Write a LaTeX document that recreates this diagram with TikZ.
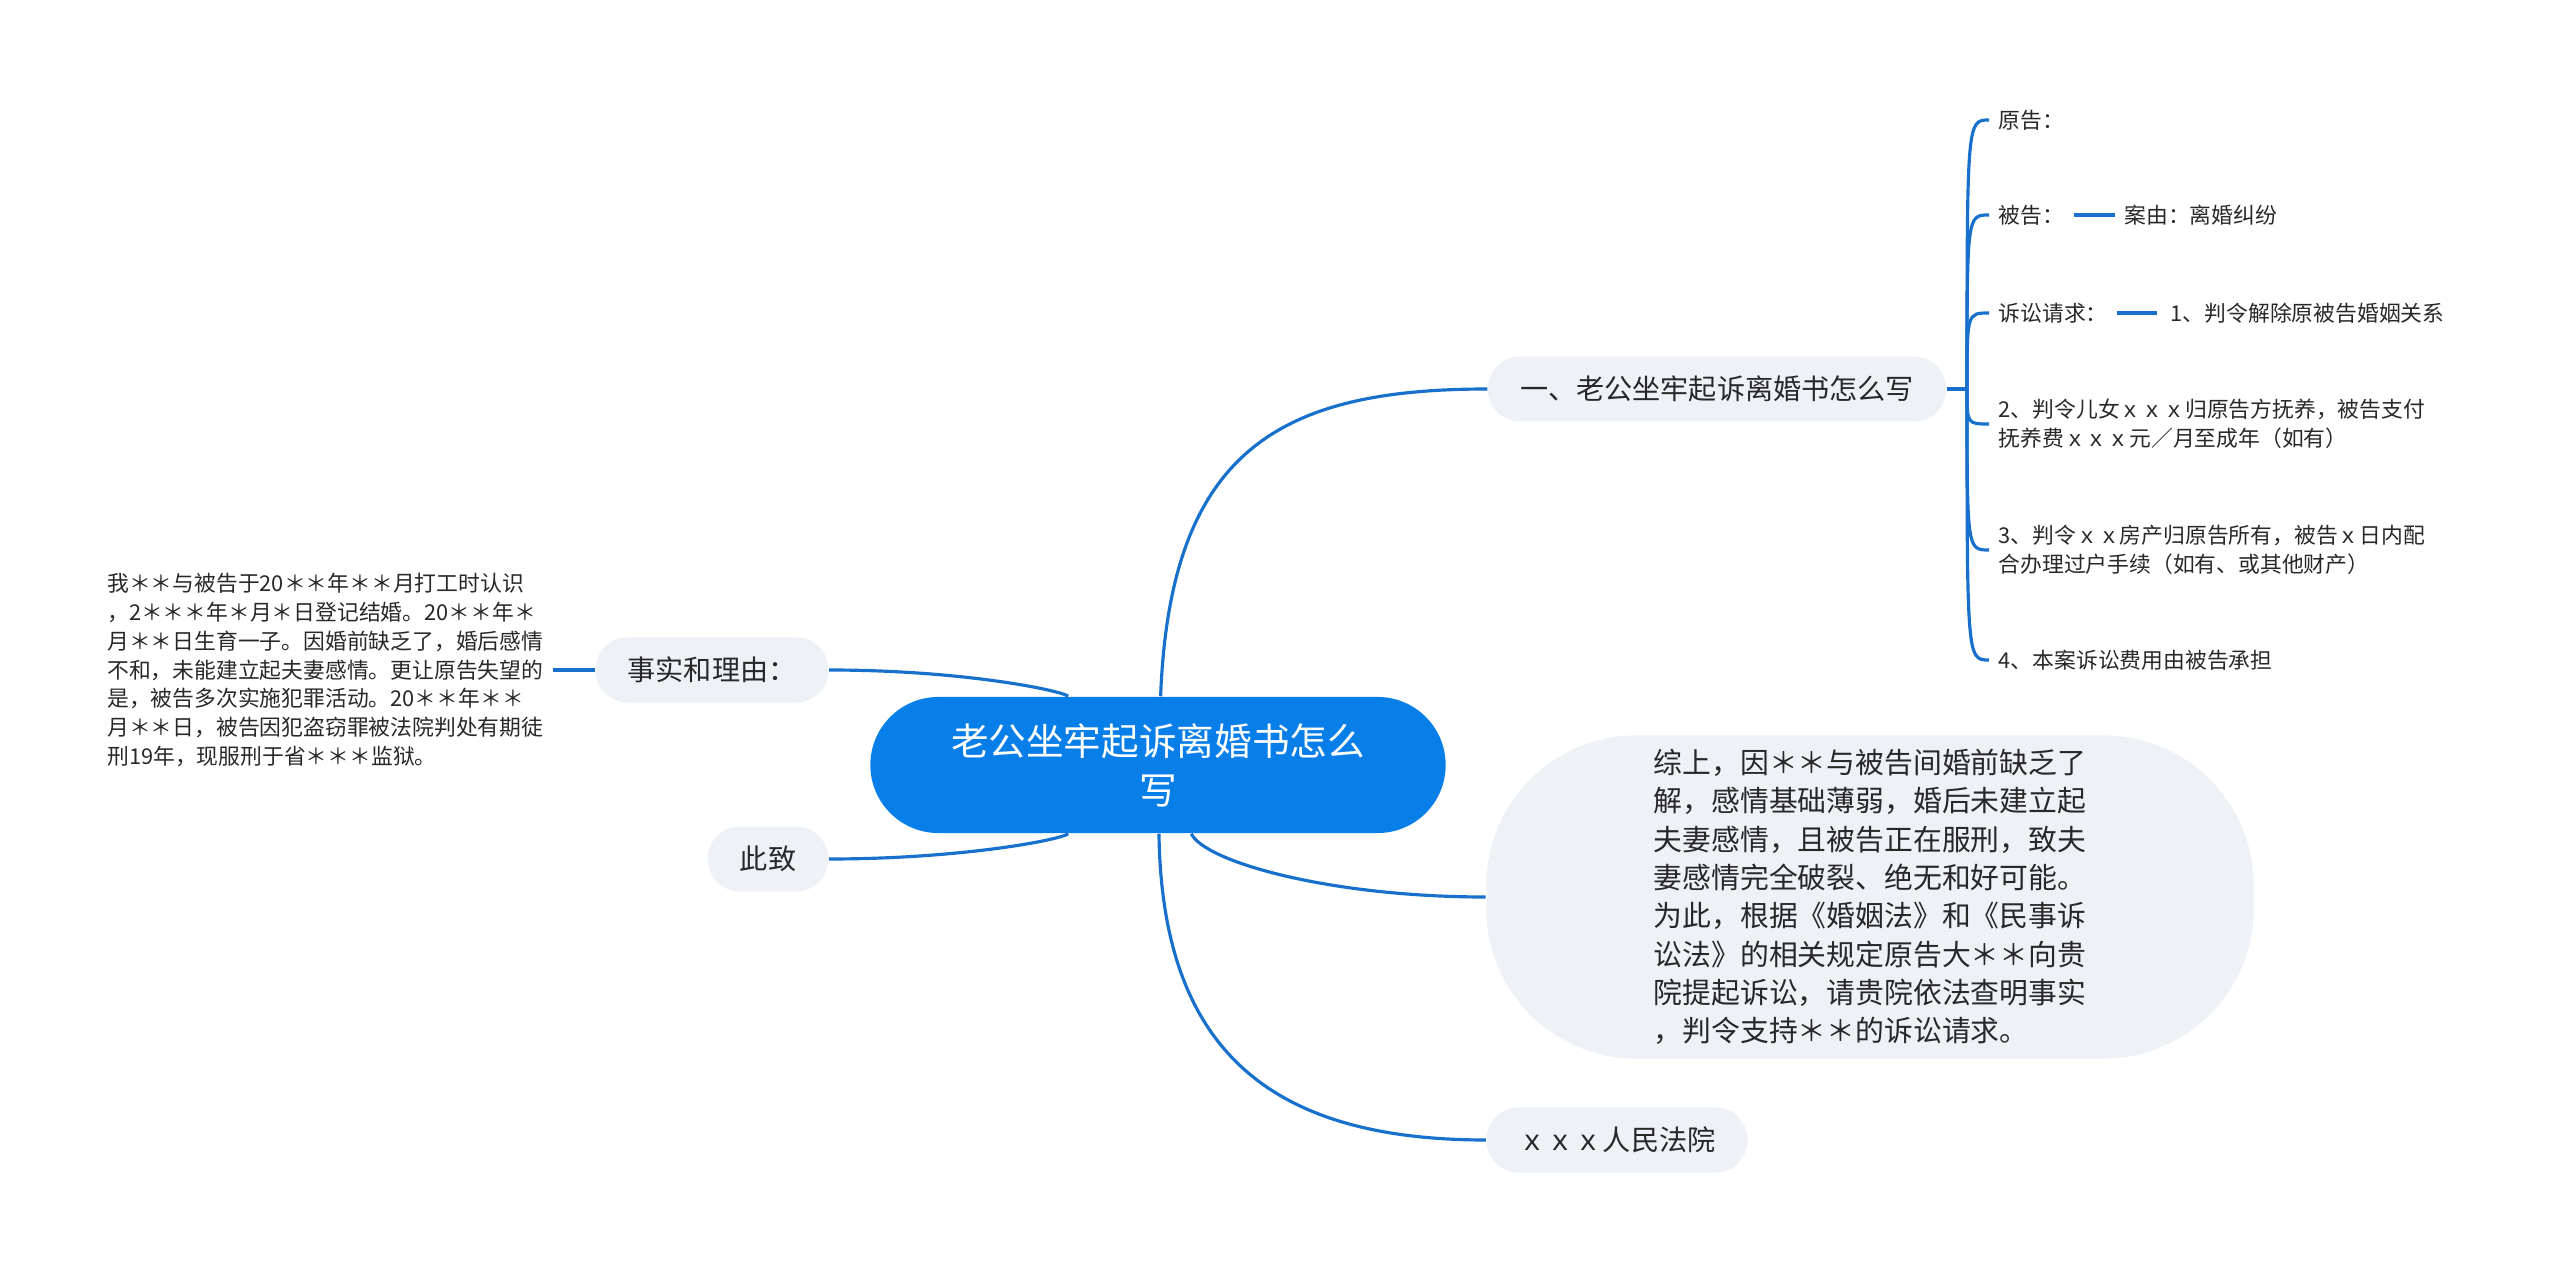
\documentclass[tikz,border=0pt]{standalone}
\usepackage{fontspec}
\setmainfont{Noto Sans CJK SC}
\usetikzlibrary{positioning}
\definecolor{rootblue}{RGB}{8,127,232}
\definecolor{linkblue}{RGB}{22,112,204}
\definecolor{topicgray}{RGB}{238,241,245}
\definecolor{inkgray}{RGB}{40,40,40}
\tikzset{
  link/.style={draw=linkblue, line width=0.9pt},
  root/.style={fill=rootblue, text=white, rounded corners=0.68cm, minimum width=5.75cm,
    minimum height=1.36cm, align=center, font=\fontsize{10.7}{14}\selectfont},
  topic/.style={fill=topicgray, text=inkgray, rounded corners=0.32cm, minimum height=0.65cm,
    inner xsep=0.32cm, font=\fontsize{8}{10}\selectfont},
  bubble/.style={fill=topicgray, text=inkgray, rounded corners=1.5cm, minimum width=7.67cm,
    minimum height=3.23cm, align=left, font=\fontsize{8.2}{10.9}\selectfont},
  leaf/.style={text=inkgray, inner xsep=0.09cm, align=left, font=\fontsize{6.2}{8.2}\selectfont}
}
\begin{document}
\begin{tikzpicture}[x=0.01cm, y=-0.01cm]
        \useasboundingbox (0,0) rectangle (2560,1267);
        \node[root] (c) at (1158,765) {老公坐牢起诉离婚书怎么\\写};
        \node[topic] (n1) at (1717,389) {一、老公坐牢起诉离婚书怎么写};
        \node[bubble] (sum) at (1870,897) {综上，因＊＊与被告间婚前缺乏了\\解，感情基础薄弱，婚后未建立起\\夫妻感情，且被告正在服刑，致夫\\妻感情完全破裂、绝无和好可能。\\为此，根据《婚姻法》和《民事诉\\讼法》的相关规定原告大＊＊向贵\\院提起诉讼，请贵院依法查明事实\\，判令支持＊＊的诉讼请求。};
        \node[topic] (court) at (1617,1140) {ｘｘｘ人民法院};
        \node[topic] (facts) at (712,670) {事实和理由：};
        \node[topic] (zhi) at (768,859) {此致};
        \node[leaf, anchor=east] (story) at (553,670) {我＊＊与被告于20＊＊年＊＊月打工时认识\\，2＊＊＊年＊月＊日登记结婚。20＊＊年＊\\月＊＊日生育一子。因婚前缺乏了，婚后感情\\不和，未能建立起夫妻感情。更让原告失望的\\是，被告多次实施犯罪活动。20＊＊年＊＊\\月＊＊日，被告因犯盗窃罪被法院判处有期徒\\刑19年，现服刑于省＊＊＊监狱。};
        \coordinate (j) at (1967,389);
        \node[leaf, anchor=west] (plaintiff) at (1989,120) {原告：};
        \node[leaf, anchor=west] (defendant) at (1989,215) {被告：};
        \node[leaf, anchor=west] (claim) at (1989,313) {诉讼请求：};
        \node[leaf, anchor=west] (req2) at (1989,424) {2、判令儿女ｘｘｘ归原告方抚养，被告支付\\抚养费ｘｘｘ元／月至成年（如有）};
        \node[leaf, anchor=west] (req3) at (1989,550) {3、判令ｘｘ房产归原告所有，被告ｘ日内配\\合办理过户手续（如有、或其他财产）};
        \node[leaf, anchor=west] (req4) at (1989,660) {4、本案诉讼费用由被告承担};
        \node[leaf, right=0.41cm of defendant] (cause) {案由：离婚纠纷};
        \node[leaf, right=0.4cm of claim] (req1) {\,1、判令解除原被告婚姻关系};
        \draw[link] (c) .. controls (1170,450) and (1280,389) .. (n1.west);
        \draw[link] (c) .. controls (1205,862) and (1330,897) .. (sum.west);
        \draw[link] (c) .. controls (1162,1050) and (1270,1140) .. (court.west);
        \draw[link] (c) .. controls (1060,690) and (960,670) .. (facts.east);
        \draw[link] (c) .. controls (1060,840) and (960,859) .. (zhi.east);
        \draw[link] (facts.west) -- (story.east);
        \draw[link] (n1.east) -- (j);
        \draw[link] (j) .. controls (1967,120) .. (plaintiff.west);
        \draw[link] (j) .. controls (1967,215) .. (defendant.west);
        \draw[link] (j) .. controls (1967,313) .. (claim.west);
        \draw[link] (j) .. controls (1967,424) .. (req2.west);
        \draw[link] (j) .. controls (1967,550) .. (req3.west);
        \draw[link] (j) .. controls (1967,660) .. (req4.west);
        \draw[link] (defendant) -- (cause);
        \draw[link] (claim) -- (req1);
    \end{tikzpicture}
\end{document}
